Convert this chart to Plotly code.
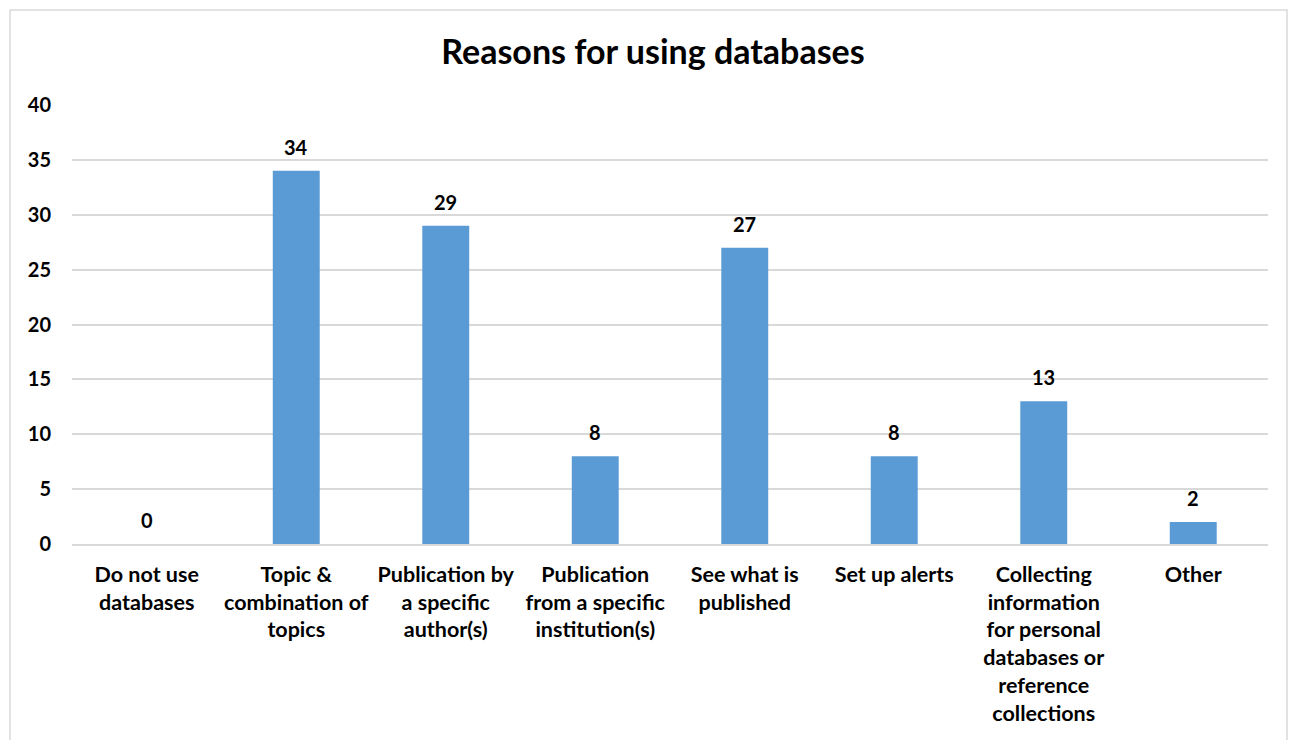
import plotly.graph_objects as go

categories = [
    "Do not use<br>databases",
    "Topic &<br>combination of<br>topics",
    "Publication by<br>a specific<br>author(s)",
    "Publication<br>from a specific<br>institution(s)",
    "See what is<br>published",
    "Set up alerts",
    "Collecting<br>information<br>for personal<br>databases or<br>reference<br>collections",
    "Other",
]
values = [0, 34, 29, 8, 27, 8, 13, 2]
y_ticks = [0, 5, 10, 15, 20, 25, 30, 35, 40]

FONT = "Lato, Carlito, Calibri, 'Open Sans', sans-serif"
BAR_COLOR = "#5B9BD5"

fig = go.Figure()
fig.add_trace(go.Bar(
    x=categories, y=values,
    marker=dict(color=BAR_COLOR, line=dict(width=0)),
    hoverinfo="skip",
))

for c, v in zip(categories, values):
    fig.add_annotation(
        x=c, y=v, text=f"<b>{v}</b>", showarrow=False,
        yanchor="middle", yshift=24,
        font=dict(family=FONT, size=20, color="#000000"),
    )

W, H = 1298, 740
ml, mr, mt, mb = 64, 38, 97, 204
pw = W - ml - mr
ph = H - mt - mb

def px_to_paper_x(px):
    return (px - ml) / pw

def px_to_paper_y(py):
    return (H - mb - py) / ph

fig.add_shape(
    type="rect", xref="paper", yref="paper",
    x0=px_to_paper_x(2), x1=px_to_paper_x(1279),
    y0=px_to_paper_y(760), y1=px_to_paper_y(2),
    line=dict(color="#D9D9D9", width=1.5), fillcolor="rgba(0,0,0,0)", layer="below",
)

fig.update_layout(
    width=W, height=H,
    margin=dict(l=ml, r=mr, t=mt, b=mb),
    paper_bgcolor="white", plot_bgcolor="white",
    bargap=0.686,
    showlegend=False,
    font=dict(family=FONT, color="#000000"),
    title=dict(
        text="<b>Reasons for using databases</b>",
        x=645 / W, xref="container", xanchor="center",
        y=1 - 44 / H, yref="container", yanchor="middle",
        font=dict(family=FONT, size=34, color="#000000"),
    ),
    xaxis=dict(
        showgrid=False, showline=True, linecolor="#D9D9D9", linewidth=1.5,
        ticks="", tickfont=dict(family=FONT, size=21.5, color="#000000"),
        ticklabelstandoff=10, tickprefix="<b>", ticksuffix="</b>",
        fixedrange=True,
    ),
    yaxis=dict(
        range=[0, 40], tickvals=y_ticks,
        ticktext=[f"<b>{t}</b>" for t in y_ticks],
        showgrid=True, gridcolor="#D9D9D9", gridwidth=1.5,
        zeroline=False, showline=False, ticks="",
        tickfont=dict(family=FONT, size=20, color="#000000"),
        ticklabelstandoff=20,
        fixedrange=True,
    ),
)

fig.write_html("out.html")
